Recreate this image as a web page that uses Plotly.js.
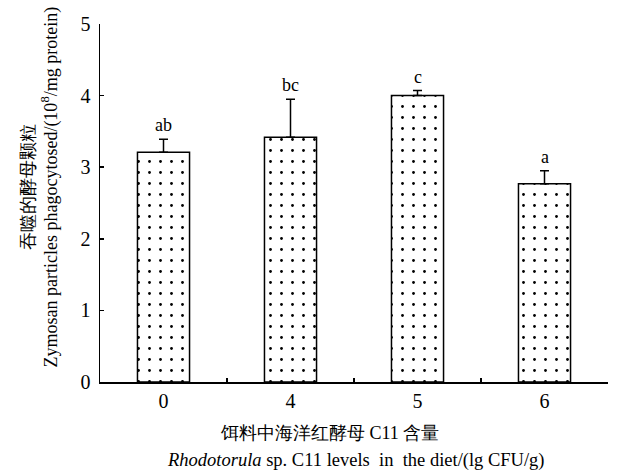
<!DOCTYPE html>
<html>
<head>
<meta charset="utf-8">
<script src="https://cdn.plot.ly/plotly-3.0.1.min.js"></script>
<style>html,body{margin:0;padding:0;background:#fff;}#chart{width:617px;height:473px;}</style>
</head>
<body>
<div id="chart"></div>
<script>
// Data
var categories = ['0', '4', '5', '6'];
var values = [3.21, 3.42, 4.00, 2.77];
var errors = [0.18, 0.53, 0.07, 0.18];
var letters = ['ab', 'bc', 'c', 'a'];
var yTickVals = [0, 1, 2, 3, 4, 5];

var FONT = 'Liberation Serif, serif';

var trace = {
  type: 'bar',
  x: categories,
  y: values,
  width: 0.41,
  marker: {
    color: 'white',
    line: {color: 'black', width: 1.5},
    pattern: {shape: '.', size: 11, solidity: 0.05, fgcolor: 'black', bgcolor: 'white', fillmode: 'replace'}
  },
  error_y: {
    type: 'data', symmetric: false, array: errors,
    arrayminus: errors.map(function(){return 0;}),
    color: 'black', thickness: 1.5, width: 4.5
  },
  hoverinfo: 'none'
};

var annotations = categories.map(function(c, i) {
  return {
    x: i, y: values[i] + errors[i], xref: 'x', yref: 'y',
    text: letters[i], showarrow: false, yanchor: 'bottom', yshift: 2,
    font: {family: FONT, size: 18, color: 'black'}
  };
});

annotations.push({
  xref: 'paper', yref: 'paper', x: -0.118, y: (382 - 187.5) / 358,
  text: '吞噬的酵母颗粒<br>Zymosan particles phagocytosed/(10<sup>8</sup>/mg protein)',
  textangle: -90, showarrow: false, xanchor: 'center', yanchor: 'middle',
  font: {family: FONT, size: 18, color: 'black'}
});
annotations.push({
  xref: 'paper', yref: 'paper', x: (329 - 100) / 508, y: -(433 - 382) / 358,
  text: '饵料中海洋红酵母 C11 含量', showarrow: false,
  xanchor: 'center', yanchor: 'middle',
  font: {family: FONT, size: 18, color: 'black'}
});
annotations.push({
  xref: 'paper', yref: 'paper', x: (356 - 100) / 508, y: -(460 - 382) / 358,
  text: '<i>Rhodotorula</i> sp. C11 levels  in  the diet/(lg CFU/g)', showarrow: false,
  xanchor: 'center', yanchor: 'middle',
  font: {family: FONT, size: 18.5, color: 'black'}
});

var layout = {
  width: 617, height: 473,
  margin: {l: 100, r: 9, t: 24, b: 91},
  paper_bgcolor: 'white', plot_bgcolor: 'white',
  showlegend: false,
  font: {family: FONT, size: 20, color: 'black'},
  xaxis: {
    type: 'category', range: [-0.5, 3.5],
    showline: true, linecolor: 'black', linewidth: 1.5,
    ticks: 'inside', tickson: 'boundaries', ticklen: 4, tickwidth: 1.5, tickcolor: 'black',
    showgrid: false, zeroline: false,
    tickfont: {family: FONT, size: 20, color: 'black'}
  },
  yaxis: {
    range: [0, 5], tickvals: yTickVals,
    showline: true, linecolor: 'black', linewidth: 1.5,
    ticks: 'inside', ticklen: 4, tickwidth: 1.5, tickcolor: 'black',
    showgrid: false, zeroline: false, ticklabelstandoff: 4,
    tickfont: {family: FONT, size: 20, color: 'black'}
  },
  annotations: annotations
};

Plotly.newPlot('chart', [trace], layout, {staticPlot: true, displayModeBar: false});
</script>
</body>
</html>
